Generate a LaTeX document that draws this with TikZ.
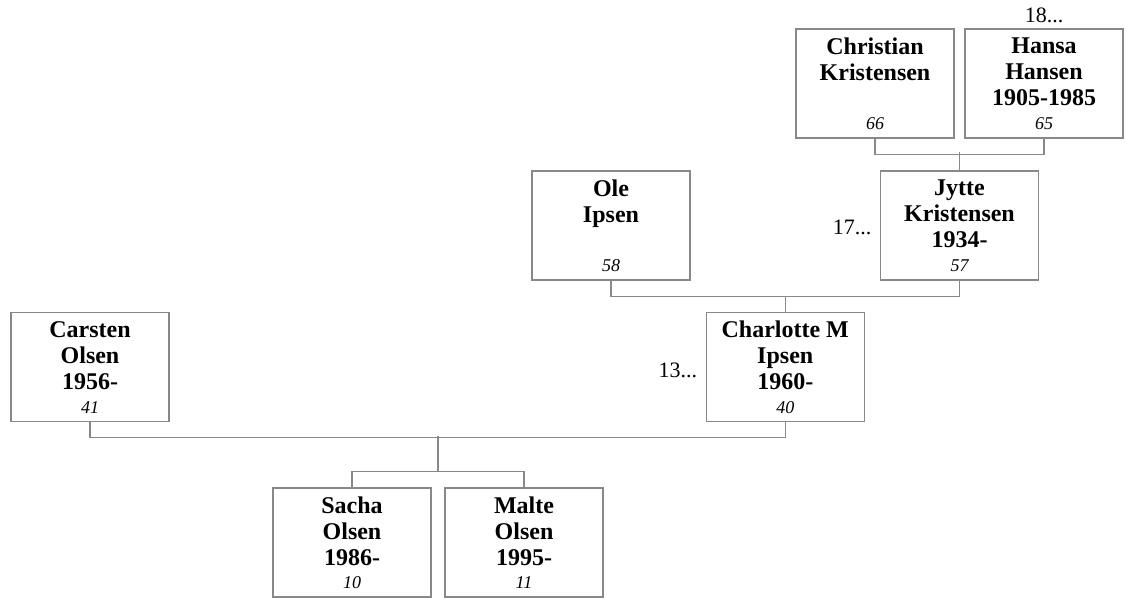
\documentclass[tikz,border=0pt]{standalone}
\usepackage{fontspec}
\setmainfont{Liberation Serif}
\usetikzlibrary{positioning,calc}
\definecolor{linegray}{RGB}{136,136,136}
\tikzset{
	person/.style={draw=linegray, line width=0.7pt, minimum width=79pt, minimum height=54.5pt, inner sep=0pt},
	pname/.style={anchor=north, align=center, inner sep=0pt, font=\fontsize{12}{13}\selectfont\bfseries},
	page/.style={anchor=base, inner sep=0pt, font=\fontsize{9}{10}\selectfont\itshape},
	more/.style={inner sep=0pt, font=\fontsize{11}{12}\selectfont},
	link/.style={draw=linegray, line width=0.7pt},
}
\begin{document}
\begin{tikzpicture}[x=0.5pt, y=-0.5pt]
	\useasboundingbox (0,0) rectangle (1126,599);
	\foreach \n/\x/\y/\txt/\num in {christian/875/83.5/{Christian\\Kristensen}/66,
		hansa/1044/83.5/{Hansa\\Hansen\\1905-1985}/65,
		ole/611/225.5/{Ole\\Ipsen}/58,
		jytte/959.5/225.5/{Jytte\\Kristensen\\1934-}/57,
		carsten/90/367/{Carsten\\Olsen\\1956-}/41,
		charlotte/785.25/367/{Charlotte M\\Ipsen\\1960-}/40,
		sacha/352/542.5/{Sacha\\Olsen\\1986-}/10,
		malte/524/542.5/{Malte\\Olsen\\1995-}/11}
	{
		\node[person] (\n) at (\x,\y) {};
		\node[pname] (\n-name) at ([yshift=-4.5pt]\n.north) {\txt};
		\node[page] (\n-age) at ([yshift=4.6pt]\n.south) {\num};
	}
	\node[more, anchor=base] (hansa-more) at ([yshift=3pt]hansa.north) {18...};
	\node[more, anchor=base east] (jytte-more) at ([xshift=-4pt, yshift=-4.5pt]jytte.west) {17...};
	\node[more, anchor=base east] (charlotte-more) at ([xshift=-4pt, yshift=-5pt]charlotte.west) {13...};
	\draw[link] (christian.south) -- ++(0,16) -| (hansa.south) (jytte.north) -- ++(0,-18);
	\draw[link] (ole.south) -- ++(0,16) -| (jytte.south) (charlotte.north) -- ++(0,-16);
	\draw[link] (carsten.south) -- ++(0,15) -| (charlotte.south);
	\path ($(sacha.north)!.5!(malte.north)$) ++(0,-16) coordinate (fork);
	\draw[link] (sacha.north) -- ++(0,-16) -| (malte.north) (fork) -- ++(0,-35);
\end{tikzpicture}
\end{document}
